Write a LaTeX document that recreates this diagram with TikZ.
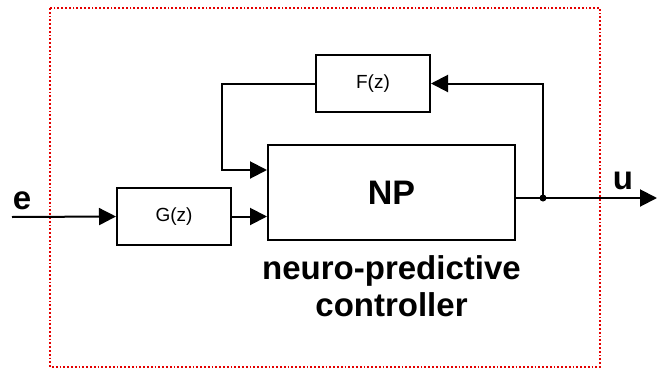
\documentclass[tikz,border=0pt]{standalone}
\usepackage{fontspec}
\setmainfont{Liberation Sans}
\usepackage{tikz}
\usetikzlibrary{arrows.meta, positioning}

\begin{document}
\begin{tikzpicture}[x=1pt, y=-1pt]
		\tikzset{node distance=14pt and 10pt,
			box/.style={rectangle, draw, line width=2pt, fill=white, align=center,
			inner sep=0pt, font=\fontsize{19}{21}\selectfont},
			sig/.style={line width=2pt, -{Triangle[length=17pt, width=17pt]}},
			big/.style={inner sep=0pt, align=center, font=\fontsize{33}{37}\selectfont\bfseries},
		}
		\useasboundingbox (0,0) rectangle (657,370);
		\draw[red!90!black, line width=1.8pt, dotted] (50,8) rectangle (600,367);

		\node[box, minimum width=114pt, minimum height=57pt](g) at (174,216.5){G(z)};
		\node[box, minimum width=247pt, minimum height=95pt, big, font=\fontsize{34}{37}\selectfont\bfseries](np) at (391.5,192.5){NP};
		\node[box, minimum width=114pt, minimum height=57pt](f) at (373,83.5){F(z)};
		\node[big, below=of np](lbl){neuro-predictive\\controller};

		\node[big](el) at (22,201){e};
		\node[big](ul) at (623,181){u};

		\coordinate(e) at (12,217);
		\coordinate(u) at (657,198);
		\coordinate(c1) at (543,198);
		\coordinate(c2) at (222,170);

		\draw[sig](e) -- (g.west);
		\draw[sig](g.east) -- (np.west |- g.east);
		\draw[sig](np.east |- c1) -- (u);
		\draw[sig](c1) |- (f.east);
		\draw[sig](f.west) -| (c2) -- (np.west |- c2);
		\fill(c1) circle (3.5pt);

	\end{tikzpicture}
\end{document}
